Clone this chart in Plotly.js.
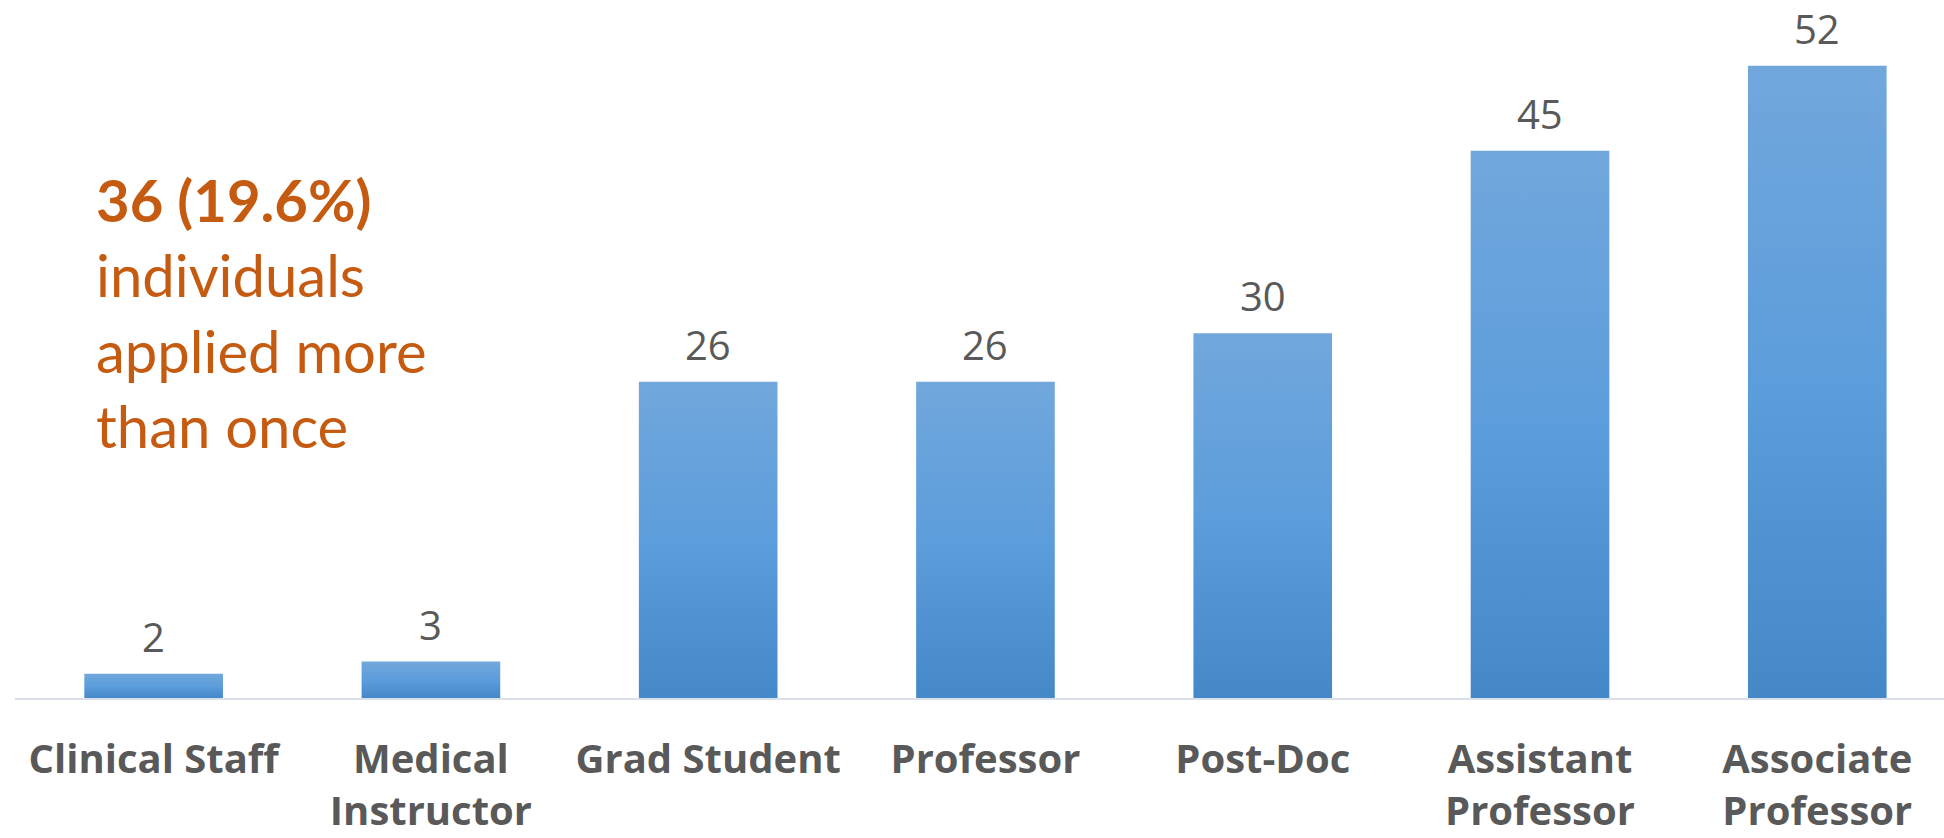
<!DOCTYPE html>
<html>
<head>
<meta charset="utf-8">
<script src="https://cdn.plot.ly/plotly-3.0.1.min.js"></script>
<style>html,body{margin:0;padding:0;background:#fff;}#chart{width:1944px;height:838px;}</style>
</head>
<body>
<div id="chart"></div>
<script>
const categories = ["Clinical Staff", "Medical<br>Instructor", "Grad Student", "Professor", "Post-Doc", "Assistant<br>Professor", "Associate<br>Professor"];
const values = [2, 3, 26, 26, 30, 45, 52];
const noteTitle = "36 (19.6%)";
const noteBody = ["individuals", "applied more", "than once"];

const FONT = '"Open Sans", sans-serif';
const NOTE_FONT = 'Lato, "Open Sans", sans-serif';
const GREY = '#595959';
const ORANGE = '#c55a11';

const trace = {
  type: 'bar',
  x: categories,
  y: values,
  marker: {color: '#5b9bd5', line: {width: 0}},
  hoverinfo: 'none'
};

const valueAnnotations = categories.map((c, i) => ({
  x: c, y: values[i], xref: 'x', yref: 'y',
  text: String(values[i]), showarrow: false,
  yanchor: 'bottom', yshift: 9, borderpad: 0,
  font: {family: FONT, size: 40, color: GREY}
}));

const noteAnnotation = {
  xref: 'paper', yref: 'paper', x: 0.041, y: 0.553,
  xanchor: 'left', yanchor: 'middle', align: 'left', showarrow: false,
  text: '<b>' + noteTitle + '</b><br>' + noteBody.join('<br>'),
  font: {family: NOTE_FONT, size: 58, color: ORANGE}
};

const layout = {
  width: 1944, height: 838,
  margin: {l: 15, r: 0, t: 0, b: 140},
  paper_bgcolor: '#ffffff', plot_bgcolor: '#ffffff',
  showlegend: false,
  bargap: 0.5,
  xaxis: {
    type: 'category',
    range: [-0.5, 6.457],
    showline: true, linecolor: '#d9e0ea', linewidth: 2,
    showgrid: false, zeroline: false,
    ticks: 'outside', ticklen: 25, tickcolor: 'rgba(0,0,0,0)',
    tickfont: {family: FONT, size: 40, color: GREY, weight: 'bold'}
  },
  yaxis: {
    range: [0, 57.4],
    visible: false, showgrid: false, zeroline: false
  },
  annotations: valueAnnotations.concat([noteAnnotation])
};

function applyGradient(gd) {
  const svg = gd.querySelector('svg.main-svg');
  if (!svg) return;
  let defs = svg.querySelector('defs');
  if (!svg.querySelector('#barGrad')) {
    const ns = 'http://www.w3.org/2000/svg';
    const lg = document.createElementNS(ns, 'linearGradient');
    lg.setAttribute('id', 'barGrad');
    lg.setAttribute('x1', '0'); lg.setAttribute('y1', '0');
    lg.setAttribute('x2', '0'); lg.setAttribute('y2', '1');
    [['0', '#71a7dc'], ['0.5', '#5c9ddb'], ['1', '#4588c8']].forEach(([o, c]) => {
      const s = document.createElementNS(ns, 'stop');
      s.setAttribute('offset', o); s.setAttribute('stop-color', c);
      lg.appendChild(s);
    });
    defs.appendChild(lg);
  }
  gd.querySelectorAll('.bars .point path').forEach(p => { p.style.fill = 'url(#barGrad)'; });
}

const gd = document.getElementById('chart');
Plotly.newPlot(gd, [trace], layout, {displayModeBar: false, staticPlot: true}).then(() => {
  applyGradient(gd);
  gd.on('plotly_afterplot', () => applyGradient(gd));
});
</script>
</body>
</html>
